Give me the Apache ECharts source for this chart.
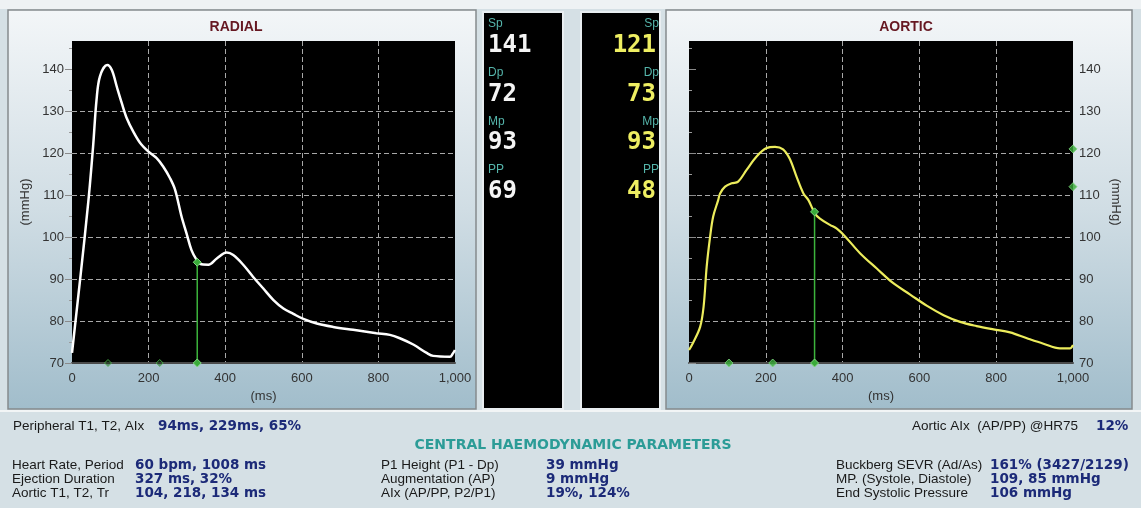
<!DOCTYPE html>
<html><head><meta charset="utf-8">
<script src="https://cdn.jsdelivr.net/npm/echarts@6/dist/echarts.min.js"></script>
<style>html,body{margin:0;padding:0;background:#d5e0e5;}#c{width:1141px;height:508px;}</style>
</head><body><div id="c"></div>
<script>
// ---- data ----
const radialMs = [0, 22, 43, 55, 64, 73, 92, 104, 117, 130, 143, 160, 178, 199, 221, 238, 256, 269, 286, 299, 312, 325, 334, 356, 378, 404, 421, 447, 473, 499, 526, 552, 578, 604, 639, 682, 734, 795, 830, 856, 891, 926, 943, 987, 994, 1000];
const radialP  = [72.4, 90.6, 108.8, 121.5, 132.6, 138.3, 141, 139.8, 135.8, 131.9, 128.3, 125.1, 122.4, 120.4, 118.8, 116.8, 114, 111.3, 104.9, 100.9, 96.9, 94.6, 93.6, 93.4, 94.9, 96.3, 95.7, 93.4, 90.5, 87.8, 85, 83, 81.7, 80.5, 79.4, 78.6, 77.9, 77.1, 76.7, 75.9, 74.4, 72.4, 71.7, 71.5, 72.2, 73.1];
const aorticMs = [0, 10, 29, 38, 46, 55, 63, 76, 81, 94, 111, 128, 150, 176, 202, 224, 245, 262, 280, 298, 311, 328, 341, 367, 385, 407, 446, 489, 532, 576, 620, 663, 706, 749, 793, 836, 880, 923, 966, 992, 1000];
const aorticP  = [73.1, 74.7, 78.6, 83.4, 92.9, 100.1, 104.9, 108.8, 110.4, 112, 112.8, 113.2, 116, 119.2, 121.2, 121.5, 120.9, 118.7, 114.4, 110.4, 108.8, 105.6, 104.4, 102.9, 102, 100.1, 96.1, 92.5, 89, 86.3, 83.6, 81.4, 79.8, 78.8, 78, 77.3, 75.9, 74.6, 73.5, 73.5, 74.3];
const xTickLabels = ['0', '200', '400', '600', '800', '1,000'];
const yTickValues = [70, 80, 90, 100, 110, 120, 130, 140];
const radialTimeMarks = [94, 229];
const radialEjection = [327, 94];
const aorticTimeMarks = [104, 218];
const aorticEjection = [327, 106];
const aorticPressureMarks = [121, 112];
const statLabels = ['Sp', 'Dp', 'Mp', 'PP'];
const radialStats = [141, 72, 93, 69];
const aorticStats = [121, 73, 93, 48];
const col1Labels = ['Heart Rate, Period', 'Ejection Duration', 'Aortic T1, T2, Tr'];
const col1Values = ['60 bpm, 1008 ms', '327 ms, 32%', '104, 218, 134 ms'];
const col2Labels = ['P1 Height (P1 - Dp)', 'Augmentation (AP)', 'AIx (AP/PP, P2/P1)'];
const col2Values = ['39 mmHg', '9 mmHg', '19%, 124%'];
const col3Labels = ['Buckberg SEVR (Ad/As)', 'MP. (Systole, Diastole)', 'End Systolic Pressure'];
const col3Values = ['161% (3427/2129)', '109, 85 mmHg', '106 mmHg'];
const peripheralLabel = 'Peripheral T1, T2, AIx';
const peripheralValue = '94ms, 229ms, 65%';
const aorticAixLabel = 'Aortic AIx  (AP/PP) @HR75';
const aorticAixValue = '12%';
const centralTitle = 'CENTRAL HAEMODYNAMIC PARAMETERS';

// ---- styles ----
const SANS = '"Liberation Sans", Arial, sans-serif';
const BOLD = '"DejaVu Sans", Verdana, sans-serif';
const MONO = '"DejaVu Sans Mono", monospace';
const navy = '#1c2a78';
const teal = '#55b5ab';

const radialData = radialMs.map((x, i) => [x, radialP[i]]);
const aorticData = aorticMs.map((x, i) => [x, aorticP[i]]);

function xAxis(gi) {
  return {
    gridIndex: gi, type: 'value', min: 0, max: 1000, interval: 200,
    name: '(ms)', nameLocation: 'middle', nameGap: 27,
    nameTextStyle: { fontFamily: SANS, fontSize: 13, color: '#333' },
    axisLine: { show: true, onZero: false, lineStyle: { color: '#4a4a4a', width: 2 } },
    axisTick: { show: false },
    axisLabel: { fontFamily: SANS, fontSize: 13, color: '#333', margin: 9,
      formatter: v => xTickLabels[Math.round(v / 200)] ?? '' },
    splitLine: { show: true, showMinLine: false, showMaxLine: false,
      lineStyle: { color: '#a8a8a8', type: [5, 3], width: 1 } }
  };
}
function yAxis(gi, pos) {
  const right = pos === 'right';
  return {
    gridIndex: gi, type: 'value', position: pos, min: yTickValues[0], max: 146.7, interval: 10,
    name: '(mmHg)', nameLocation: 'middle', nameGap: right ? 36 : 40, nameRotate: right ? -90 : 90,
    nameTextStyle: { fontFamily: SANS, fontSize: 13, color: '#333' },
    axisLine: { show: false },
    axisTick: { show: true, length: 7, customValues: yTickValues, lineStyle: { color: '#8a8a8a' } },
    minorTick: { show: true, splitNumber: 2, length: 3, lineStyle: { color: '#9a9a9a' } },
    axisLabel: { fontFamily: SANS, fontSize: 13, color: '#333', margin: right ? 6 : 8, showMaxLabel: false,
      formatter: v => (yTickValues.includes(v) ? String(v) : '') },
    splitLine: { show: true, showMinLine: false, showMaxLine: false,
      lineStyle: { color: '#a8a8a8', type: [5, 3], width: 1 } }
  };
}
const diamond = (fill, border) => ({ color: fill, borderColor: border, borderWidth: 1 });

const graphics = [];
graphics.push({ type: 'rect', z: -20, shape: { x: 0, y: 0, width: 1141, height: 9 }, style: { fill: '#eef2f4' } });
[[8, 468], [666, 466]].forEach(([x, w]) => {
  graphics.push({ type: 'rect', z: -10, shape: { x: x, y: 10, width: w, height: 399 },
    style: { fill: new echarts.graphic.LinearGradient(0, 0, 0, 1, [
      { offset: 0, color: '#f3f6f8' }, { offset: 0.5, color: '#d0dde4' }, { offset: 1, color: '#a1bdcb' }]),
      stroke: '#858a8d', lineWidth: 1.5 } });
});
[[483, 80], [581, 79]].forEach(([x, w]) => {
  graphics.push({ type: 'rect', z: -10, shape: { x: x, y: 12, width: w, height: 397 },
    style: { fill: '#000', stroke: '#e9eef1', lineWidth: 2 } });
});
graphics.push({ type: 'rect', z: -20, shape: { x: 0, y: 410, width: 1141, height: 2 }, style: { fill: '#f2f5f6' } });

graphics.push({ type: 'text', z: 100, x: 236, y: 27, style: { text: 'RADIAL', fontFamily: SANS, fontWeight: 'bold', fontSize: 14, fill: '#661822', align: 'center', verticalAlign: 'middle' } });
graphics.push({ type: 'text', z: 100, x: 906, y: 27, style: { text: 'AORTIC', fontFamily: SANS, fontWeight: 'bold', fontSize: 14, fill: '#661822', align: 'center', verticalAlign: 'middle' } });

const labelY = [24, 73, 122, 170];
const valueY = [46, 95, 143, 192];
statLabels.forEach((lab, i) => {
  graphics.push({ type: 'text', z: 100, x: 488, y: labelY[i], style: { text: lab, fontFamily: SANS, fontSize: 12, fill: teal, align: 'left', verticalAlign: 'middle' } });
  graphics.push({ type: 'text', z: 100, x: 488, y: valueY[i], style: { text: String(radialStats[i]), fontFamily: MONO, fontWeight: 'bold', fontSize: 24, fill: '#f4f4f4', align: 'left', verticalAlign: 'middle' } });
  graphics.push({ type: 'text', z: 100, x: 659, y: labelY[i], style: { text: lab, fontFamily: SANS, fontSize: 12, fill: teal, align: 'right', verticalAlign: 'middle' } });
  graphics.push({ type: 'text', z: 100, x: 656, y: valueY[i], style: { text: String(aorticStats[i]), fontFamily: MONO, fontWeight: 'bold', fontSize: 24, fill: '#eeee62', align: 'right', verticalAlign: 'middle' } });
});

const txt = (t, x, y, bold, color, align, size) => graphics.push({ type: 'text', z: 100, x: x, y: y,
  style: { text: t, fontFamily: bold ? BOLD : SANS, fontWeight: bold ? 'bold' : 'normal', fontSize: size || 13.5, fill: color, align: align || 'left', verticalAlign: 'middle' } });
txt(peripheralLabel, 13, 426, false, '#1a1a1a');
txt(peripheralValue, 158, 426, true, navy);
txt(aorticAixLabel, 1078, 426, false, '#1a1a1a', 'right');
txt(aorticAixValue, 1096, 426, true, navy);
txt(centralTitle, 573, 445, true, '#2c9c97', 'center', 14);
const rowY = [465, 479, 493];
[[col1Labels, col1Values, 12, 135], [col2Labels, col2Values, 381, 546], [col3Labels, col3Values, 836, 990]].forEach(([ls, vs, lx, vx]) => {
  ls.forEach((l, i) => { txt(l, lx, rowY[i], false, '#1a1a1a'); txt(vs[i], vx, rowY[i], true, navy); });
});

const option = {
  animation: false,
  backgroundColor: '#d5e0e5',
  grid: [
    { left: 72, top: 41, width: 383, height: 322, show: true, backgroundColor: '#000', borderWidth: 0 },
    { left: 689, top: 41, width: 384, height: 322, show: true, backgroundColor: '#000', borderWidth: 0 }
  ],
  xAxis: [xAxis(0), xAxis(1)],
  yAxis: [yAxis(0, 'left'), yAxis(1, 'right')],
  graphic: { elements: graphics },
  series: [
    { type: 'line', xAxisIndex: 0, yAxisIndex: 0, data: radialData, smooth: 0.35, showSymbol: false,
      lineStyle: { color: '#ffffff', width: 2.5 }, z: 3 },
    { type: 'line', xAxisIndex: 1, yAxisIndex: 1, data: aorticData, smooth: 0.35, showSymbol: false,
      lineStyle: { color: '#ecec5c', width: 2.2 }, z: 3 },
    { type: 'line', xAxisIndex: 0, yAxisIndex: 0, data: [[radialEjection[0], yTickValues[0]], [radialEjection[0], radialEjection[1]]],
      showSymbol: true, symbol: 'diamond', symbolSize: 8, itemStyle: diamond('#3aab3a', '#7fd87f'), lineStyle: { color: '#3cb43c', width: 1.5 }, z: 4 },
    { type: 'line', xAxisIndex: 1, yAxisIndex: 1, data: [[aorticEjection[0], yTickValues[0]], [aorticEjection[0], aorticEjection[1]]],
      showSymbol: true, symbol: 'diamond', symbolSize: 8, itemStyle: diamond('#3aab3a', '#7fd87f'), lineStyle: { color: '#3cb43c', width: 1.5 }, z: 4 },
    { type: 'scatter', xAxisIndex: 0, yAxisIndex: 0, data: radialTimeMarks.map(t => [t, yTickValues[0]]),
      symbol: 'diamond', symbolSize: 7, itemStyle: { color: 'rgba(20,60,20,0.6)', borderColor: '#4fbf4f', borderWidth: 1 }, z: 5 },
    { type: 'scatter', xAxisIndex: 1, yAxisIndex: 1, data: aorticTimeMarks.map(t => [t, yTickValues[0]]),
      symbol: 'diamond', symbolSize: 8, itemStyle: diamond('#3aab3a', '#7fd87f'), z: 5 },
    { type: 'scatter', xAxisIndex: 1, yAxisIndex: 1, data: aorticPressureMarks.map(p => [1000, p]),
      symbol: 'diamond', symbolSize: 8, itemStyle: diamond('#3aab3a', '#7fd87f'), z: 5, clip: false }
  ]
};
const chart = echarts.init(document.getElementById('c'), null, { renderer: 'canvas' });
chart.setOption(option);
</script>
</body></html>
